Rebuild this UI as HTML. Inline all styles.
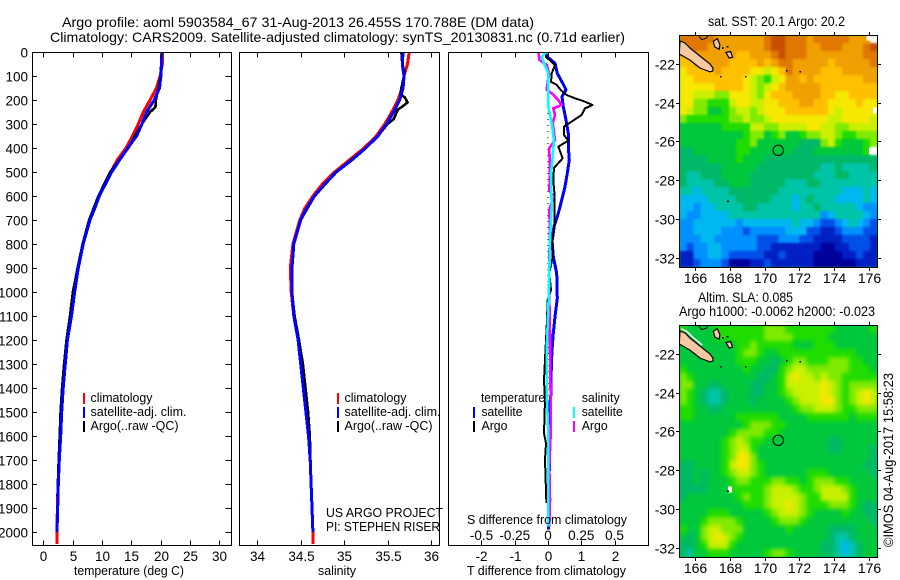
<!DOCTYPE html>
<html>
<head>
<meta charset="utf-8">
<title>Argo profile</title>
<style>
html,body{margin:0;padding:0;background:#fff;width:900px;height:580px;overflow:hidden}
svg{display:block;font-family:"Liberation Sans",sans-serif;font-size:13.5px;fill:#000}
text{fill:#000}
</style>
</head>
<body>
<svg id="chart" width="900" height="580" viewBox="0 0 900 580" xmlns="http://www.w3.org/2000/svg">
<defs>
<clipPath id="c1"><rect x="32" y="52" width="199" height="494"/></clipPath>
<clipPath id="c2"><rect x="239" y="52" width="201" height="494"/></clipPath>
<clipPath id="c3"><rect x="448" y="52" width="201" height="494"/></clipPath>
<clipPath id="m1"><rect x="679" y="35" width="198" height="232"/></clipPath>
<clipPath id="m2"><rect x="679" y="325" width="198" height="232"/></clipPath>
<filter id="softSst" x="-5%" y="-5%" width="110%" height="110%" color-interpolation-filters="sRGB"><feGaussianBlur stdDeviation="1"/></filter>
<filter id="softSla" x="-5%" y="-5%" width="110%" height="110%" color-interpolation-filters="sRGB"><feGaussianBlur stdDeviation="2.2"/></filter>
</defs>
<text x="62" y="27" font-size="14" textLength="472" lengthAdjust="spacingAndGlyphs">Argo profile: aoml 5903584_67 31-Aug-2013 26.455S 170.788E (DM data)</text>
<text x="50" y="42" font-size="14" textLength="575" lengthAdjust="spacingAndGlyphs">Climatology: CARS2009. Satellite-adjusted climatology: synTS_20130831.nc (0.71d earlier)</text>
<g id="p1"></g>
<g id="p2"></g>
<g id="p3"></g>
<text x="74" y="575" font-size="13" textLength="110" lengthAdjust="spacingAndGlyphs">temperature (deg C)</text>
<text x="318" y="575" font-size="13" textLength="38" lengthAdjust="spacingAndGlyphs">salinity</text>
<text x="467" y="575" font-size="13" textLength="159" lengthAdjust="spacingAndGlyphs">T difference from climatology</text>
<text x="467" y="524" font-size="13" textLength="160" lengthAdjust="spacingAndGlyphs">S difference from climatology</text>
<g font-size="13">
<text x="90.5" y="402" textLength="62" lengthAdjust="spacingAndGlyphs">climatology</text>
<text x="90.5" y="416" textLength="96" lengthAdjust="spacingAndGlyphs">satellite-adj. clim.</text>
<text x="90.5" y="430" textLength="88" lengthAdjust="spacingAndGlyphs">Argo(..raw -QC)</text>
<text x="344.5" y="402" textLength="62" lengthAdjust="spacingAndGlyphs">climatology</text>
<text x="344.5" y="416" textLength="96" lengthAdjust="spacingAndGlyphs">satellite-adj. clim.</text>
<text x="344.5" y="430" textLength="88" lengthAdjust="spacingAndGlyphs">Argo(..raw -QC)</text>
<text x="326" y="517" textLength="117" lengthAdjust="spacingAndGlyphs">US ARGO PROJECT</text>
<text x="326" y="531" textLength="114" lengthAdjust="spacingAndGlyphs">PI: STEPHEN RISER</text>
<text x="481" y="402" textLength="64" lengthAdjust="spacingAndGlyphs">temperature</text>
<text x="481.5" y="416" textLength="41" lengthAdjust="spacingAndGlyphs">satellite</text>
<text x="481.5" y="430" textLength="26" lengthAdjust="spacingAndGlyphs">Argo</text>
<text x="581.7" y="402" textLength="38" lengthAdjust="spacingAndGlyphs">salinity</text>
<text x="581.7" y="416" textLength="41" lengthAdjust="spacingAndGlyphs">satellite</text>
<text x="581.7" y="430" textLength="26" lengthAdjust="spacingAndGlyphs">Argo</text>
</g>
<g shape-rendering="crispEdges" stroke-width="2">
<line x1="84" x2="84" y1="393" y2="404" stroke="#f00"/>
<line x1="84" x2="84" y1="407" y2="418" stroke="#00f"/>
<line x1="84" x2="84" y1="421" y2="432" stroke="#000"/>
<line x1="338" x2="338" y1="393" y2="404" stroke="#f00"/>
<line x1="338" x2="338" y1="407" y2="418" stroke="#00f"/>
<line x1="338" x2="338" y1="421" y2="432" stroke="#000"/>
<line x1="474" x2="474" y1="407" y2="418" stroke="#00f"/>
<line x1="474" x2="474" y1="421" y2="432" stroke="#000"/>
<line x1="574" x2="574" y1="407" y2="418" stroke="#0ff"/>
<line x1="574" x2="574" y1="421" y2="432" stroke="#f0f"/>
</g>
<g id="map1"></g>
<g id="map2"></g>
<text x="708" y="26" font-size="13.5" textLength="137" lengthAdjust="spacingAndGlyphs">sat. SST: 20.1  Argo: 20.2</text>
<text x="698" y="302" font-size="13.5" textLength="95" lengthAdjust="spacingAndGlyphs">Altim. SLA: 0.085</text>
<text x="679" y="316" font-size="13.5" textLength="196" lengthAdjust="spacingAndGlyphs">Argo h1000: -0.0062 h2000: -0.023</text>
<text transform="translate(893,547) rotate(-90)" font-size="13.5" textLength="174" lengthAdjust="spacingAndGlyphs">©IMOS 04-Aug-2017 15:58:23</text>
</svg>
<script>
const depthTicks = [0,100,200,300,400,500,600,700,800,900,1000,1100,1200,1300,1400,1500,1600,1700,1800,1900,2000];
const tempTicks = [0,5,10,15,20,25,30];
const salTicks = [34,34.5,35,35.5,36];
const salTickLabels = ['34','34.5','35','35.5','36'];
const tDiffTicks = [-2,-1,0,1,2];
const sDiffTicks = [-0.5,-0.25,0,0.25,0.5];
const sDiffTickLabels = ['-0.5','-0.25','0','0.25','0.5'];
const latTicks = [-22,-24,-26,-28,-30,-32];
const lonTicks = [166,168,170,172,174,176];

const profileDepths = [0,50,100,150,200,250,300,350,400,450,500,550,600,650,700,800,900,1000,1100,1200,1300,1400,1500,1600,1700,1800,1900,2000];
const tempClim = [20.35,20.3,19.9,19.3,18.2,17.05,16.2,15.2,14.1,12.6,11.5,10.5,9.45,8.7,7.9,6.75,5.9,5.3,4.75,4.05,3.7,3.35,3.1,2.9,2.7,2.5,2.4,2.3];
const tempSat = [20.2,20.15,20.05,19.8,18.9,17.6,16.8,15.9,14.4,13,11.65,10.6,9.55,8.8,7.96,6.8,5.97,5.35,4.8,4.1,3.75,3.4,3.14,2.96,2.73,2.56,2.45,2.33];
const argoDepths = [0,50,100,150,200,230,250,300,350,400,500,600,700,800,900,1000,1100,1200,1300,1400,1500,1600,1700,1800,1850];
const tempArgo = [20.2,20.1,20,19.6,19.2,19.1,18.2,16.8,15.6,14.5,11.4,9.4,7.8,6.7,5.85,5.05,4.55,3.95,3.55,3.2,2.95,2.8,2.62,2.48,2.42];
const salClim = [35.75,35.73,35.69,35.67,35.62,35.55,35.47,35.37,35.23,35.06,34.89,34.75,34.64,34.55,34.49,34.41,34.38,34.39,34.42,34.47,34.5,34.53,34.56,34.59,34.61,34.62,34.63,34.64];
const salSat = [35.68,35.67,35.69,35.68,35.64,35.57,35.49,35.39,35.25,35.09,34.91,34.78,34.66,34.57,34.5,34.42,34.4,34.4,34.42,34.47,34.5,34.53,34.56,34.59,34.61,34.62,34.63,34.64];
const salArgoDepths = [0,50,75,100,150,175,190,210,225,240,280,300,350,400,500,600,700,800,900,1000,1100,1200,1300,1400,1500,1600,1800,1850];
const salArgo = [35.66,35.67,35.69,35.69,35.66,35.65,35.7,35.73,35.68,35.62,35.57,35.5,35.39,35.25,34.91,34.66,34.5,34.42,34.4,34.4,34.43,34.48,34.525,34.555,34.585,34.605,34.62,34.625];

const tDiffSatDepths = [0,20,47,89,130,158,186,228,283,339,394,450,505,561,617,672,728,783,853,922,1026,1103,1172,1242,1311,1422,1464,1589,1728,1867,1990];
const tDiffSat = [-0.08,-0.02,0.21,0.28,0.44,0.54,0.42,0.46,0.54,0.61,0.61,0.64,0.58,0.51,0.41,0.31,0.18,0.12,0.16,0.26,0.28,0.21,0.16,0.12,0.1,0.09,0.06,0.05,0.04,0.03,0.02];
const tDiffArgoDepths = [0,20,54,89,124,137,158,179,193,204,221,235,262,290,311,346,369,394,443,483,533,583,728,783,853,922,992,1026,1033,1144,1256,1367,1450,1589,1630,1700,1867,1880];
const tDiffArgo = [-0.08,-0.06,0.21,0.11,0.09,0.26,0.38,0.56,0.81,1.06,1.34,1.11,1.01,0.71,0.48,0.48,0.61,0.31,0.44,0.18,0.16,0.19,0.2,0.14,0.14,0.04,0.09,0.01,-0.01,-0.04,-0.08,-0.12,-0.09,-0.12,-0.06,-0.09,-0.05,-0.05];
const sDiffArgoDepths = [0,33,54,89,158,172,200,221,235,262,297,367,401,505,575,603,658,756,853,1026,1172,1242,1450,1589,1728,1867,1978];
const sDiffArgo = [-0.0725,-0.065,-0.01,0.0075,-0.01,0.0275,0.0775,0.1025,0.04,0.0525,0.035,0.0525,0.01,0.015,0.01,0.04,0.01,0.015,0.01,0.01,0.015,0.015,0.02,0.02,0.01,0.015,0.01];
const sDiffSatDepths = [0,20,47,89,228,297,367,436,505,644,783,922,1026,1242,1422,1589,1728,1978];
const sDiffSat = [-0.01,-0.0475,-0.03,0.0025,0.0025,0.0275,0.045,0.035,0.0225,0.0275,0.015,0.01,0.005,-0.01,-0.01,0.0025,0.0025,0.0025];

const landMain = [[165.12,-20.83],[165.41,-20.93],[165.70,-21.19],[166.27,-21.6],[166.85,-22.01],[167.02,-22.22],[167.02,-22.37],[166.85,-22.42],[166.27,-22.22],[165.70,-21.81],[165.08,-21.5]];
const landLifou = [[167.04,-20.85],[167.27,-20.7],[167.42,-21.02],[167.38,-21.25],[167.13,-21.14]];
const landMare = [[167.77,-21.42],[168.04,-21.37],[168.15,-21.66],[167.96,-21.71]];
const reefNorth = [[166.17,-20.52],[166.37,-20.76],[166.65,-20.68],[166.75,-20.52]];
const islandDots = [[167.48,-22.67],[168.92,-22.67],[171.3,-22.38],[172.06,-22.43],[167.9,-29.08],[167.6,-21.2],[167.87,-21.14]];
const slaCoastHalo = [[165.2,-20.72],[165.5,-20.85],[165.85,-21.15],[166.4,-21.55]];
const profileLocation = [170.788,-26.455];

const paletteColors = ['#00009a','#0020c4','#0050e8','#0090ff','#00b8f0','#00c4a8','#00b868','#00c83c','#20dc00','#80ea00','#c8f000','#f6e800','#ffc000','#f0a000','#e07800','#c85000'];
const sstGrid = [
[14,14,14,14,14,13,13,13,13,13,13,13,14,15,15,14,14,14,13,14,14,14,14,14,13,13,13,-1],
[12,14,14,14,13,13,13,13,13,13,13,13,14,15,15,14,14,14,13,13,14,14,14,13,13,13,14,15],
[12,13,13,13,13,13,13,13,12,12,13,13,13,14,15,14,14,14,13,13,13,13,13,13,13,13,14,14],
[12,12,13,13,13,13,13,12,12,12,12,13,12,13,14,14,13,13,13,13,13,12,13,13,13,13,13,14],
[11,12,12,12,12,13,12,12,12,12,11,11,10,11,12,14,13,13,13,13,12,12,12,13,13,13,13,13],
[11,11,12,12,12,12,12,12,12,11,10,9,8,10,11,13,13,12,13,12,12,12,12,12,12,12,13,13],
[11,11,11,11,11,12,12,12,12,11,10,9,10,11,12,13,13,13,13,13,12,12,12,12,12,12,12,12],
[11,11,10,10,10,9,9,11,11,11,10,9,11,12,12,12,13,13,13,13,12,12,11,11,12,12,12,12],
[11,11,9,9,8,8,8,10,11,11,10,10,11,11,12,12,12,13,13,12,12,11,11,11,11,12,11,11],
[11,10,9,9,7,7,8,9,10,10,9,10,11,11,11,12,12,12,12,12,12,11,10,11,11,11,11,11],
[9,8,8,8,8,8,8,9,9,10,9,9,10,11,11,11,11,11,11,11,11,10,10,11,11,11,11,10],
[7,7,7,7,7,7,8,8,8,8,10,10,9,9,10,10,10,10,11,11,10,10,9,9,10,10,10,10],
[7,7,7,7,7,7,7,7,7,8,9,9,7,8,9,7,7,8,9,9,10,10,9,8,8,9,9,9],
[7,7,7,7,7,7,7,7,8,8,9,7,7,7,7,7,7,6,6,6,9,10,8,7,7,7,8,9],
[6,6,7,7,7,7,7,7,8,8,7,7,7,7,7,7,6,6,6,7,7,7,7,7,7,7,8,-1],
[6,6,6,6,7,7,7,7,8,7,7,7,6,6,6,6,6,6,6,6,6,6,6,6,6,6,6,6],
[6,6,6,6,6,6,7,7,7,7,7,6,6,6,6,6,6,6,6,6,5,5,6,5,5,5,5,6],
[6,5,5,6,6,6,7,7,7,7,6,6,6,6,6,6,6,6,6,5,5,5,6,6,5,5,5,5],
[6,5,5,5,5,6,6,7,7,7,6,6,6,6,6,5,5,5,6,6,5,5,5,5,5,5,5,5],
[5,5,4,5,5,5,5,6,6,6,6,6,6,6,5,5,5,5,5,5,5,5,5,4,4,4,5,4],
[4,4,4,4,5,5,5,5,6,6,6,6,6,5,5,5,4,5,6,5,5,5,4,4,4,4,5,4],
[4,4,3,4,4,5,5,5,5,6,6,5,5,5,5,5,4,5,5,6,5,5,5,5,5,4,3,3],
[4,3,3,4,4,4,4,5,5,5,5,5,5,5,5,5,5,5,5,5,3,4,5,5,5,5,4,3],
[3,3,4,4,4,4,4,4,3,4,4,4,4,4,4,4,5,4,4,3,2,2,3,4,5,4,3,2],
[3,3,4,4,4,4,3,3,3,2,3,3,3,3,3,4,4,4,2,2,1,1,2,3,3,3,2,2],
[3,3,3,4,4,3,3,3,3,3,3,2,2,2,3,3,3,2,2,1,1,1,1,2,2,2,2,1],
[3,2,3,3,4,4,3,3,3,3,3,2,2,1,1,1,1,1,1,1,0,0,1,1,2,2,2,1],
[1,1,3,3,4,4,3,2,2,2,2,2,1,1,2,1,1,1,1,0,0,0,0,1,1,2,1,1],
[1,1,2,3,3,3,2,0,0,0,1,1,2,1,1,1,1,1,1,0,0,0,0,0,0,1,1,1]
];
const slaGrid = [
[8,7,7,7,7,8,8,8,8,8,8,8,9,9,9,8,8,8,8,8,8,8,7,7,7,7,7,8],
[7,7,7,7,7,8,8,8,8,8,8,8,9,9,9,9,8,8,8,8,8,7,7,7,7,7,7,7],
[7,7,7,7,7,7,7,7,8,8,9,8,8,8,8,8,7,7,7,8,8,8,7,7,7,7,7,7],
[7,7,7,7,7,7,7,7,8,9,9,8,7,7,8,8,8,8,8,8,8,8,8,8,8,7,7,7],
[7,7,7,7,7,7,7,7,8,8,8,7,7,6,7,8,9,9,8,8,8,9,9,9,8,8,7,7],
[8,7,7,7,7,7,7,7,7,8,7,7,6,6,8,9,10,10,9,9,9,9,9,9,8,8,8,7],
[9,8,7,7,7,7,7,7,7,7,7,6,6,7,8,10,11,10,10,9,10,9,9,8,8,8,8,8],
[9,9,7,7,6,6,7,7,7,7,6,6,7,7,8,10,10,10,10,10,11,10,9,8,9,9,9,9],
[9,8,7,6,5,5,6,7,7,7,6,6,7,7,8,9,10,10,10,10,11,10,9,8,9,10,11,10],
[9,8,7,6,5,5,6,7,7,7,6,7,7,7,7,8,9,10,10,10,11,11,9,8,9,10,11,10],
[8,8,7,7,6,6,7,7,7,7,7,7,7,7,7,7,8,9,9,10,10,10,9,8,8,9,9,9],
[8,8,7,7,7,7,7,7,8,8,8,8,8,8,7,7,7,7,8,8,8,8,8,8,7,8,8,8],
[7,7,7,7,7,7,7,7,7,8,9,9,9,8,8,7,7,7,7,7,7,7,7,7,7,7,7,7],
[7,7,7,7,7,7,7,8,9,9,9,9,8,8,7,7,7,7,7,7,7,7,7,7,7,7,7,7],
[7,7,7,7,7,7,8,9,10,9,8,8,7,7,7,7,7,7,7,7,7,6,6,7,7,7,7,7],
[7,7,7,7,7,7,8,9,10,10,8,7,7,7,7,7,7,7,7,7,7,6,6,7,7,7,7,6],
[7,7,7,7,7,7,8,9,11,11,9,7,7,7,7,7,7,7,7,7,7,7,7,7,7,7,7,6],
[6,6,7,7,7,7,8,10,11,11,9,8,7,7,7,7,7,7,7,7,7,7,7,7,7,7,6,6],
[6,6,7,6,7,7,8,9,10,10,9,8,7,7,7,7,7,7,8,8,8,7,7,7,7,7,7,6],
[6,6,7,6,7,7,7,8,9,9,8,8,8,9,9,8,8,7,8,9,9,9,8,8,7,7,7,7],
[6,6,6,6,7,7,7,8,8,8,8,8,9,10,10,10,9,8,8,9,10,10,10,9,8,7,7,7],
[6,7,7,7,7,7,7,7,8,9,8,8,9,10,10,10,10,9,8,8,10,10,10,10,8,7,7,7],
[7,7,7,7,7,7,7,7,7,8,8,8,9,10,10,11,10,9,8,8,8,9,9,9,8,7,6,6],
[7,7,7,7,8,8,8,7,7,7,7,7,8,9,10,10,10,9,8,7,7,7,7,8,7,7,6,6],
[7,7,7,8,9,9,9,9,8,7,7,7,7,8,9,9,9,8,7,7,7,7,7,7,7,7,7,6],
[8,7,7,9,10,10,9,9,9,7,7,7,7,7,7,8,7,7,7,7,7,6,6,6,6,7,7,7],
[7,6,7,9,10,11,10,9,8,7,7,7,7,7,7,7,7,7,7,7,7,6,5,5,6,7,7,7],
[6,6,7,8,10,10,10,8,7,7,7,7,7,7,7,7,7,7,7,7,6,6,5,4,5,6,7,7],
[6,5,7,7,8,8,8,7,7,7,7,7,8,9,9,8,7,7,7,7,6,6,5,4,5,6,7,7]
];
const sstWhiteSpots = [[176.36,-24.4],[176.15,-26.5],[176.0,-20.65]];
const slaWhiteSpots = [[168.0,-28.98]];

const NS = 'http://www.w3.org/2000/svg';
function mk(parent, tag, attrs, txt) {
  const node = document.createElementNS(NS, tag);
  for (const k in attrs) node.setAttribute(k, attrs[k]);
  if (txt !== undefined) node.textContent = txt;
  parent.appendChild(node);
  return node;
}

const depthY = d => 52 + 0.24 * d;
const tempX = t => 43.3 + 5.867 * t;
const salX = s => 257.3 + 86.8 * (s - 34);
const tDiffX = t => 548 + 33.3 * t;
const sDiffX = s => 548 + 133 * s;

const panelBoxes = [
  {id:'p1', x0:32.5, x1:231.5},
  {id:'p2', x0:239.5, x1:439.5},
  {id:'p3', x0:448.5, x1:648.5}
];
const PANEL_TOP = 52.5, PANEL_BOTTOM = 545.5;

function drawFrame(g, box) {
  const r = mk(g, 'rect', {x:box.x0, y:PANEL_TOP, width:box.x1-box.x0, height:PANEL_BOTTOM-PANEL_TOP, fill:'none', stroke:'#000', 'stroke-width':1, 'shape-rendering':'crispEdges'});
  
  
}
function tick(g, x1, y1, x2, y2) {
  const l = mk(g, 'line', {x1:x1, y1:y1, x2:x2, y2:y2, stroke:'#000', 'stroke-width':1, 'shape-rendering':'crispEdges'});
  
  
}
function label(g, x, y, anchor, s) {
  const t = mk(g, 'text', {x:x, y:y, 'text-anchor':anchor}, s);
  
  
}
function curve(g, depths, vals, xf, color, width, clip, name) {
  const pts = depths.map((d, i) => xf(vals[i]).toFixed(1) + ',' + depthY(d).toFixed(1)).join(' ');
  const p = mk(g, 'polyline', {points:pts, fill:'none', stroke:color, 'stroke-width':width, 'stroke-linejoin':'round', 'clip-path':'url(#'+clip+')', 'shape-rendering':'crispEdges'});
  
  
}

const g1 = document.getElementById('p1');
const g2 = document.getElementById('p2');
const g3 = document.getElementById('p3');

curve(g1, profileDepths.concat([2050]), tempClim.concat([tempClim[tempClim.length-1]]), tempX, '#f00', 3, 'c1', 'temperature-climatology-line');
curve(g1, argoDepths, tempArgo, tempX, '#000', 2.6, 'c1', 'temperature-argo-line');
curve(g1, profileDepths, tempSat, tempX, '#00f', 3, 'c1', 'temperature-satellite-line');

curve(g2, profileDepths.concat([2050]), salClim.concat([salClim[salClim.length-1]]), salX, '#f00', 3, 'c2', 'salinity-climatology-line');
curve(g2, salArgoDepths, salArgo, salX, '#000', 2.6, 'c2', 'salinity-argo-line');
curve(g2, profileDepths, salSat, salX, '#00f', 3, 'c2', 'salinity-satellite-line');

const zeroLine = mk(g3, 'line', {x1:tDiffX(0), x2:tDiffX(0), y1:depthY(230), y2:depthY(1450), stroke:'#000', 'stroke-width':1, 'stroke-dasharray':'1 5', 'shape-rendering':'crispEdges'});


curve(g3, tDiffSatDepths, tDiffSat, tDiffX, '#00f', 3, 'c3', 't-difference-satellite-line');
curve(g3, tDiffArgoDepths, tDiffArgo, tDiffX, '#000', 2, 'c3', 't-difference-argo-line');
curve(g3, sDiffArgoDepths, sDiffArgo, sDiffX, '#f0f', 2.6, 'c3', 's-difference-argo-line');
curve(g3, sDiffSatDepths, sDiffSat, sDiffX, '#0ff', 2.6, 'c3', 's-difference-satellite-line');

panelBoxes.forEach(b => drawFrame(document.getElementById(b.id), b));

depthTicks.forEach(d => {
  const y = Math.round(depthY(d)) + 0.5;
  tick(g1, 32.5, y, 37, y);
  tick(g1, 231.5, y, 225.5, y);
  label(g1, 28, y + 5, 'end', String(d));
});
tempTicks.forEach(t => {
  const x = Math.round(tempX(t)) + 0.5;
  tick(g1, x, PANEL_TOP, x, PANEL_TOP + 5);
  tick(g1, x, PANEL_BOTTOM, x, PANEL_BOTTOM - 5);
  label(g1, x, 561, 'middle', String(t));
});
salTicks.forEach((s, i) => {
  const x = Math.round(salX(s)) + 0.5;
  tick(g2, x, PANEL_TOP, x, PANEL_TOP + 5);
  tick(g2, x, PANEL_BOTTOM, x, PANEL_BOTTOM - 5);
  label(g2, x, 561, 'middle', salTickLabels[i]);
});
tDiffTicks.forEach(t => {
  const x = Math.round(tDiffX(t)) + 0.5;
  tick(g3, x, PANEL_TOP, x, PANEL_TOP + 5);
  tick(g3, x, PANEL_BOTTOM, x, PANEL_BOTTOM - 5);
  label(g3, x, 561, 'middle', String(t));
});
sDiffTicks.forEach((s, i) => {
  label(g3, sDiffX(s), 540, 'middle', sDiffTickLabels[i]);
});

const LON_MIN = 165.08, LON_MAX = 176.5, LAT_TOP = -20.52, LAT_BOTTOM = -32.46;
function drawMap(gid, clip, top, grid, whiteSpots, circleFill, cellName, blurId, baseColor, halo) {
  const g = document.getElementById(gid);
  const left = 679.3, width = 198, height = 232;
  const lonX = lon => left + (lon - LON_MIN) * width / (LON_MAX - LON_MIN);
  const latY = lat => top + (LAT_TOP - lat) * height / (LAT_TOP - LAT_BOTTOM);
  const nRows = grid.length, nCols = grid[0].length;
  const dLon = (LON_MAX - LON_MIN) / nCols, dLat = (LAT_TOP - LAT_BOTTOM) / nRows;
  const clipGroup = mk(g, 'g', {'clip-path':'url(#'+clip+')'});
  
  
  const base = mk(clipGroup, 'rect', {x:left, y:top, width:width, height:height, fill:baseColor});
  
  
  const cells = mk(clipGroup, 'g', {filter:'url(#'+blurId+')'});
  
  
  grid.forEach((row, r) => row.forEach((v, c) => {
    const x0 = lonX(LON_MIN + c * dLon), x1 = lonX(LON_MIN + (c + 1) * dLon);
    const y0 = latY(LAT_TOP - r * dLat), y1 = latY(LAT_TOP - (r + 1) * dLat);
    const cell = mk(cells, 'rect', {x:x0, y:y0, width:x1 - x0 + 0.6, height:y1 - y0 + 0.6, fill: v < 0 ? '#fff' : paletteColors[v], 'shape-rendering':'crispEdges'});
    
    
  }));
  whiteSpots.forEach(p => {
    const s = mk(clipGroup, 'rect', {x:lonX(p[0]) - 2, y:latY(p[1]) - 3, width:4, height:6, fill:'#fff', 'shape-rendering':'crispEdges'});
    
    
  });
  if (halo.length) {
    const h = mk(clipGroup, 'polyline', {points:halo.map(p => lonX(p[0]).toFixed(1) + ',' + latY(p[1]).toFixed(1)).join(' '), fill:'none', stroke:'#fff', 'stroke-width':1.6});
    
    
  }
  [landMain, landLifou, landMare].forEach(poly => {
    const pts = poly.map(p => lonX(p[0]).toFixed(1) + ',' + latY(p[1]).toFixed(1)).join(' ');
    const land = mk(clipGroup, 'polygon', {points:pts, fill:'#f8c8a0', stroke:'#000', 'stroke-width':1.2});
    
    
  });
  const reef = mk(clipGroup, 'polyline', {points:reefNorth.map(p => lonX(p[0]).toFixed(1) + ',' + latY(p[1]).toFixed(1)).join(' '), fill:'none', stroke:'#000', 'stroke-width':1});
  
  
  islandDots.forEach(p => {
    const d = mk(clipGroup, 'rect', {x:lonX(p[0]) - 1, y:latY(p[1]) - 1, width:1.6, height:1.6, fill:'#000', 'shape-rendering':'crispEdges'});
    
    
  });
  const ring = mk(g, 'circle', {cx:lonX(profileLocation[0]), cy:latY(profileLocation[1]), r:5.2, fill:circleFill, stroke:'#000', 'stroke-width':1});
  
  
  const fr = mk(g, 'rect', {x:679.5, y:top + 0.5, width:198, height:232, fill:'none', stroke:'#000', 'stroke-width':1, 'shape-rendering':'crispEdges'});
  
  
  latTicks.forEach(lat => {
    const y = Math.round(latY(lat)) + 0.5;
    tick(g, 679.5, y, 676, y);
    tick(g, 877.5, y, 881, y);
    const tl = mk(g, 'text', {x:675, y:y + 5, 'text-anchor':'end', 'font-size':14}, String(lat));
    
    
  });
  lonTicks.forEach(lon => {
    const x = Math.round(lonX(lon)) + 0.5;
    tick(g, x, top + 0.5, x, top - 3);
    tick(g, x, top + 232.5, x, top + 236);
    const tl = mk(g, 'text', {x:x, y:top + 248, 'text-anchor':'middle', 'font-size':14}, String(lon));
    
    
  });
}
drawMap('map1', 'm1', 35, sstGrid, sstWhiteSpots, 'none', 'sst-cell', 'softSst', '#00b868', []);
drawMap('map2', 'm2', 325, slaGrid, slaWhiteSpots, '#00c83c', 'sla-cell', 'softSla', '#00c83c', slaCoastHalo);
</script>
</body>
</html>
